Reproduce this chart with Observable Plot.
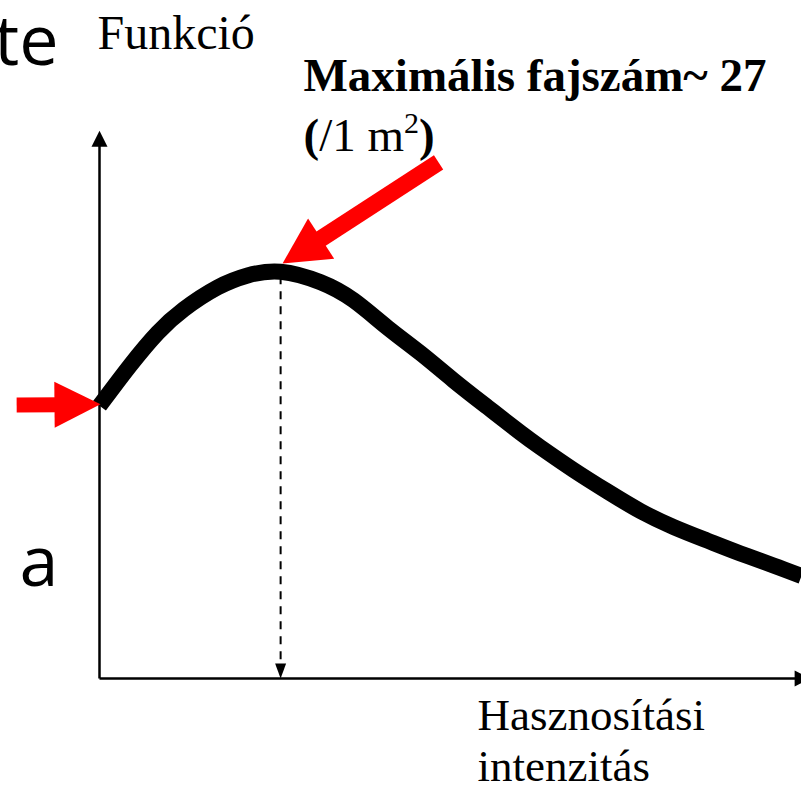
<!DOCTYPE html>
<html><head><meta charset="utf-8">
<script src="https://cdn.jsdelivr.net/npm/d3@7"></script>
<script src="https://cdn.jsdelivr.net/npm/@observablehq/plot@0.6"></script>
<style>body{margin:0;background:#fff;overflow:hidden}</style>
</head><body><div id="chart"></div>
<script>
// Hasznosítási intenzitás (relative units) vs. fajszám (/1 m2)
const intensity = [0, 4.4, 8.3, 12.0, 16.8, 21.1, 25.8, 31.5, 36.2, 41.0, 45.7, 50.4, 55.3, 60.0, 62.8, 67.5, 72.4, 77.1, 81.8, 86.6, 91.3, 96.0, 100];
const species   = [18.1, 20.8, 22.95, 24.5, 25.95, 26.75, 27.0, 26.3, 25.1, 23.3, 21.6, 19.8, 18.0, 16.3, 15.35, 13.85, 12.4, 11.1, 10.05, 9.15, 8.3, 7.5, 6.8];

const xDomain = [0, 100];
const yDomain = [0, 45];

// annotation texts
const labels = [
  {text: "te", x: -5.84, y: 40.7, anchor: "end", font: "Open Sans", size: 70, weight: "normal"},
  {text: "a", x: -5.84, y: 6.17, anchor: "end", font: "Open Sans", size: 70, weight: "normal"},
  {text: "Funkció", x: -0.28, y: 41.75, anchor: "start", font: "Liberation Serif", size: 48, weight: "normal"},
  {text: "Maximális fajszám~ 27", x: 29.06, y: 39.0, anchor: "start", font: "Liberation Serif", size: 47, weight: "bold"},
  {text: "(/1 m2)", x: 29.06, y: 35.0, anchor: "start", font: "Liberation Serif", size: 47, weight: "normal"},
  {text: "Hasznosítási\nintenzitás", x: 53.85, y: -6.8, anchor: "start", font: "Liberation Serif", size: 45, weight: "normal"}
];

// arrows: tail (x1,y1) -> tip (x2,y2), data units
const redArrows = [
  {x1: 48.3, y1: 34.25, x2: 26.07, y2: 27.54},
  {x1: -11.8, y1: 18.15, x2: 0.14, y2: 18.2}
];

const X = d3.scaleLinear(xDomain, [99, 801]);
const Y = d3.scaleLinear(yDomain, [678, 0]);

function arrowMarks(a, {color, width, headLength, headWidth, dash}) {
  const px1 = X(a.x1), py1 = Y(a.y1), px2 = X(a.x2), py2 = Y(a.y2);
  const dx = px2 - px1, dy = py2 - py1, len = Math.hypot(dx, dy);
  const ux = dx / len, uy = dy / len;
  const bx = px2 - ux * headLength * 0.85, by = py2 - uy * headLength * 0.85;
  const angle = Math.atan2(ux, -uy) * 180 / Math.PI;
  const head = {draw(ctx) { ctx.moveTo(0, 0); ctx.lineTo(-headWidth / 2, headLength); ctx.lineTo(headWidth / 2, headLength); ctx.closePath(); }};
  return [
    Plot.link([{x1: a.x1, y1: a.y1, x2: X.invert(bx), y2: Y.invert(by)}],
      {x1: "x1", y1: "y1", x2: "x2", y2: "y2", stroke: color, strokeWidth: width, strokeLinecap: "butt", strokeDasharray: dash}),
    Plot.dot([{x: a.x2, y: a.y2}], {x: "x", y: "y", symbol: head, r: 5, fill: color, stroke: "none", rotate: angle})
  ];
}

const peakIdx = d3.maxIndex(species);
const peakX = intensity[peakIdx], peakY = species[peakIdx];
const data = intensity.map((x, i) => ({x, y: species[i]}));

const plot = Plot.plot({
  width: 801, height: 787,
  marginTop: 0, marginRight: 0, marginBottom: 109, marginLeft: 99,
  x: {domain: xDomain, axis: null},
  y: {domain: yDomain, axis: null},
  style: {background: "#fff", overflow: "hidden"},
  marks: [
    // axes
    ...arrowMarks({x1: 0, y1: 0, x2: 0, y2: 36.35}, {color: "#000", width: 2.5, headLength: 16, headWidth: 16}),
    ...arrowMarks({x1: 0, y1: 0, x2: 101.3, y2: 0}, {color: "#000", width: 2.5, headLength: 16, headWidth: 16}),
    // dashed peak line
    ...arrowMarks({x1: peakX, y1: peakY - 0.3, x2: peakX, y2: 0}, {color: "#000", width: 2, headLength: 15, headWidth: 11, dash: "8,7"}),
    // curve
    Plot.line(data, {x: "x", y: "y", curve: "natural", stroke: "#000", strokeWidth: 16, strokeLinecap: "butt", strokeLinejoin: "round"}),
    // red arrows
    ...arrowMarks(redArrows[0], {color: "#ff0000", width: 17, headLength: 46, headWidth: 48}),
    ...arrowMarks(redArrows[1], {color: "#ff0000", width: 15, headLength: 46, headWidth: 46}),
    // texts
    ...labels.map(l => Plot.text([l], {x: "x", y: "y", text: "text", textAnchor: l.anchor, lineAnchor: "bottom",
      fontFamily: l.font, fontSize: l.size, fontWeight: l.weight, fill: "#000", lineHeight: 1.13}))
  ]
});

d3.select(plot).selectAll("text").filter(function() { return this.textContent === "(/1 m2)"; })
  .html('<tspan font-weight="bold">(</tspan><tspan>/1 m</tspan><tspan font-size="30" dy="-18">2</tspan><tspan font-weight="bold" dy="18">)</tspan>');

document.getElementById("chart").appendChild(plot);
</script>
</body></html>
